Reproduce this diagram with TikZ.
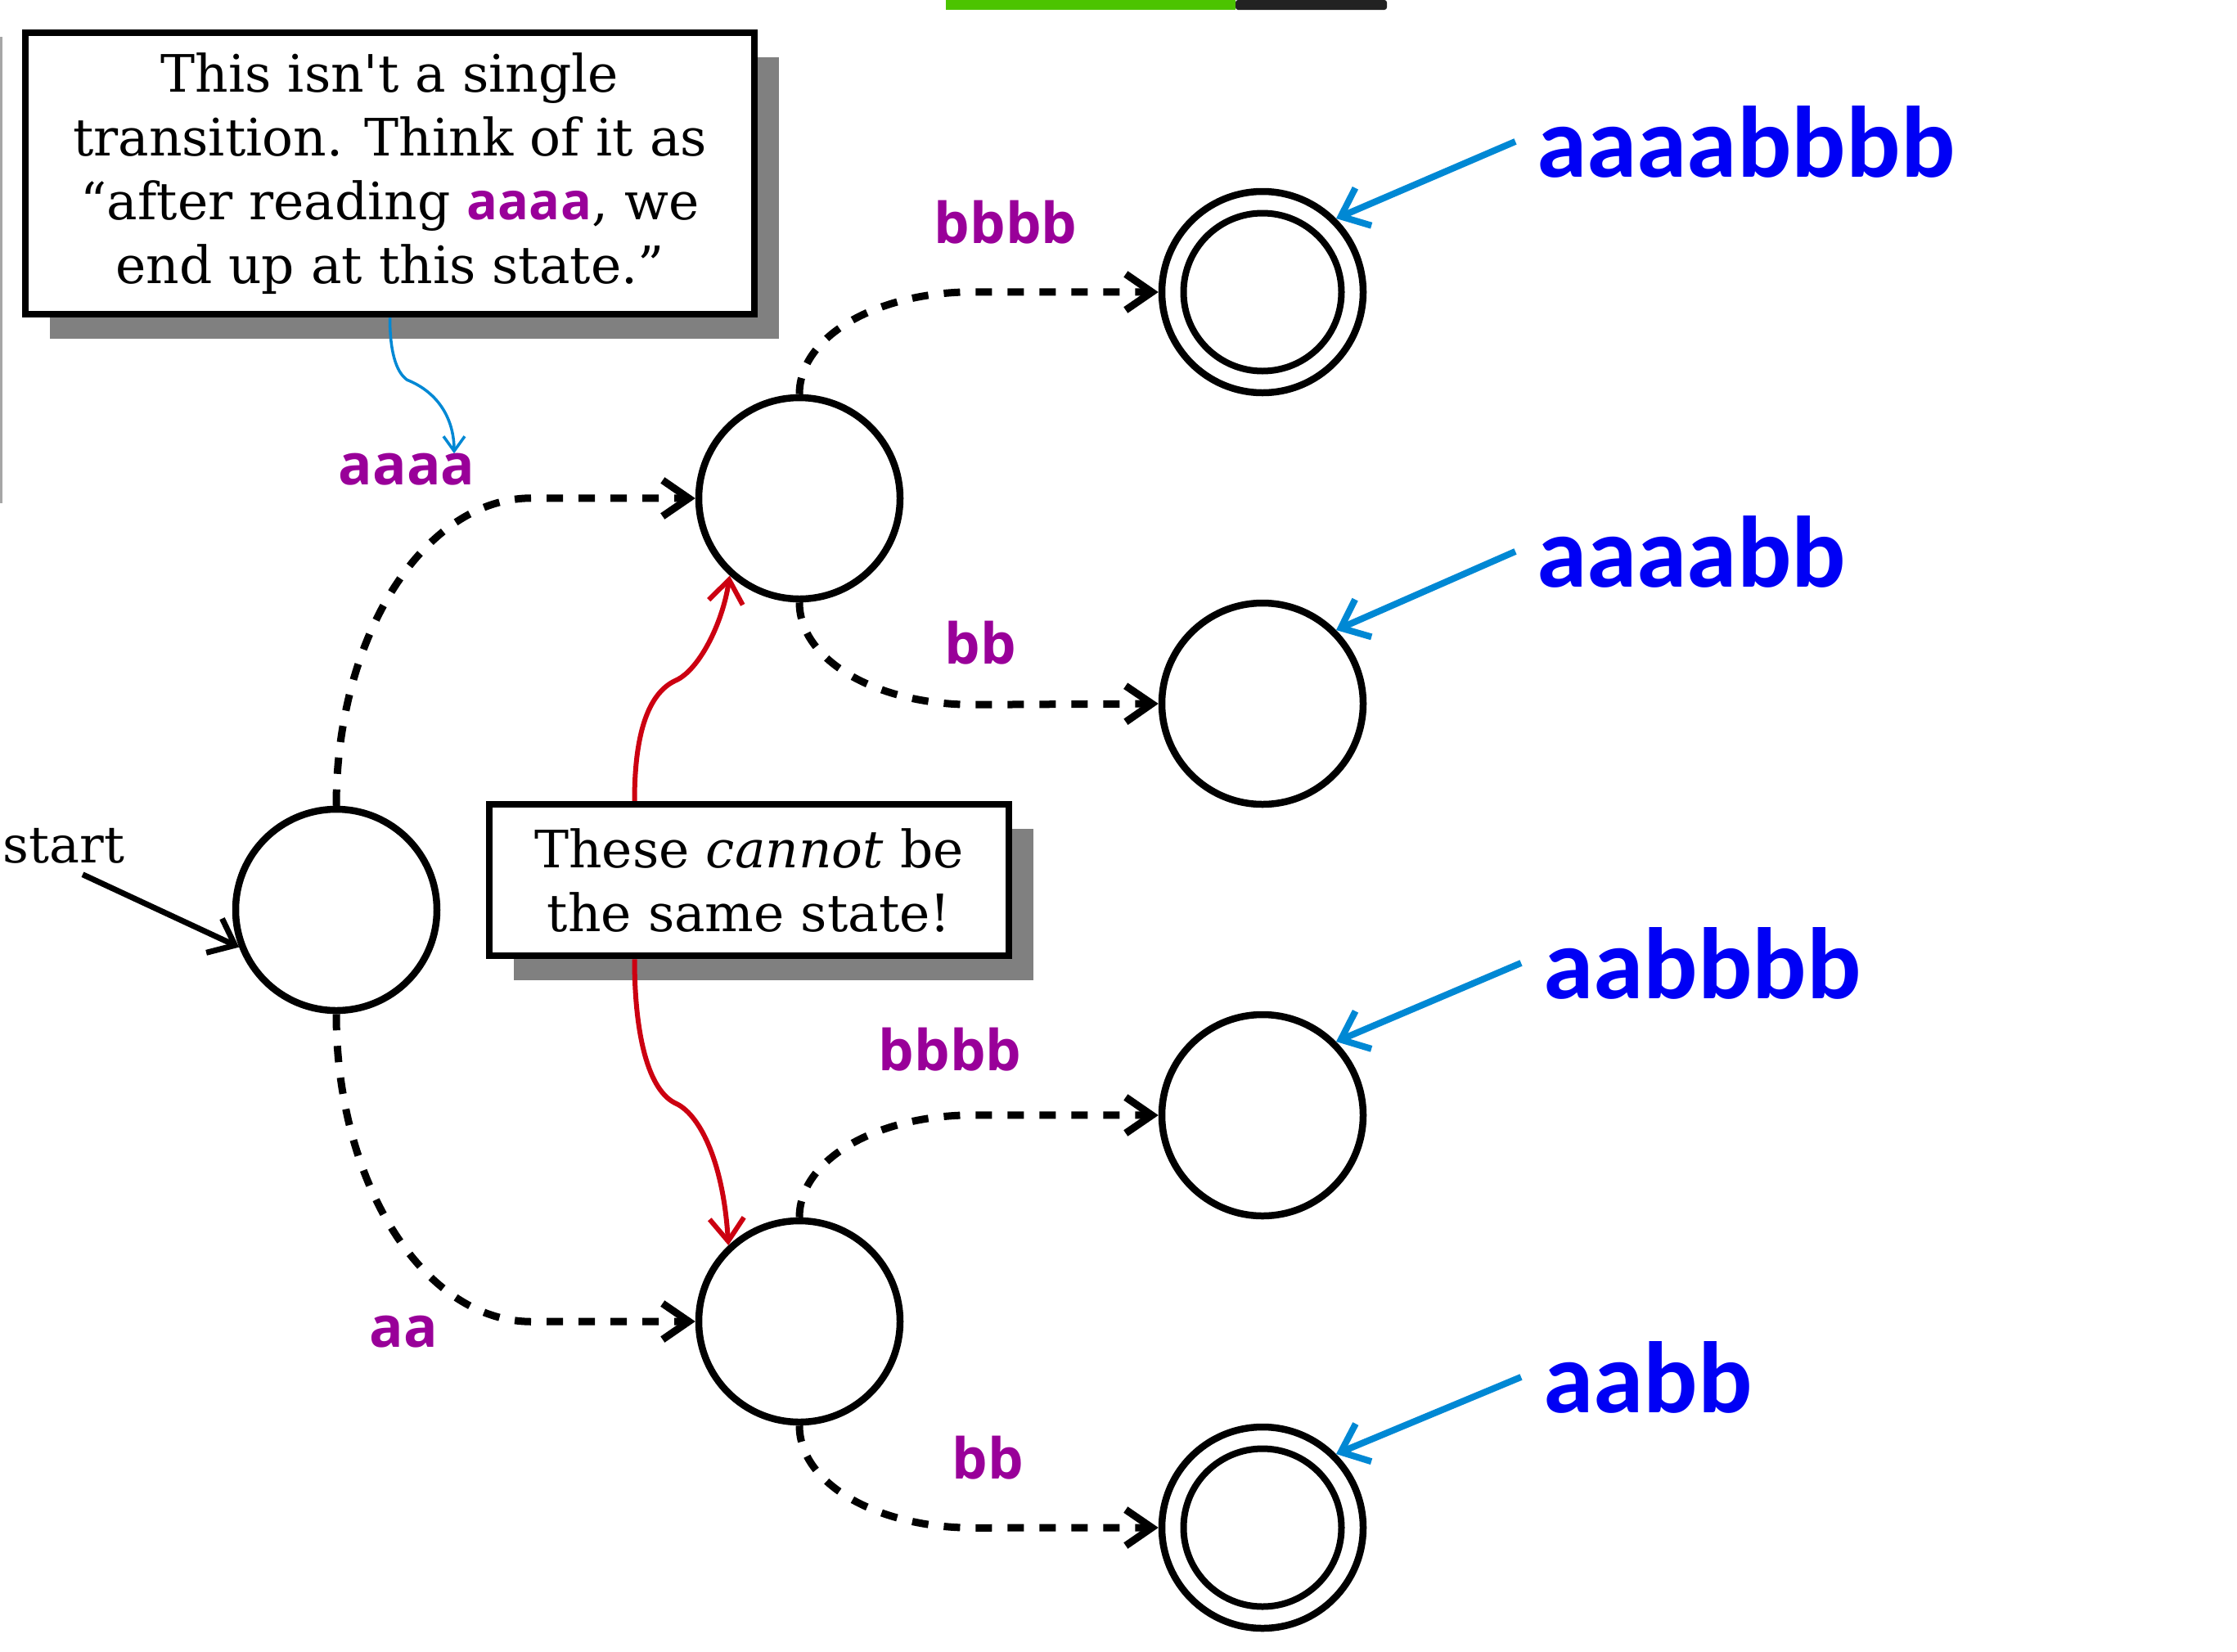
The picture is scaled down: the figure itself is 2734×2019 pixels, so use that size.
\documentclass[tikz,border=0pt]{standalone}
\usepackage{fontspec}
\setmainfont{DejaVu Serif}[Ligatures=TeXOff]
\newfontfamily\labfont{Open Sans}
\newfontfamily\blufont{Carlito}
\usetikzlibrary{arrows.meta,shadows}
\definecolor{labpurple}{RGB}{153,0,153}
\definecolor{wordblue}{RGB}{0,0,245}
\definecolor{arrowblue}{RGB}{0,136,212}
\definecolor{redc}{RGB}{204,0,17}
\definecolor{bannergreen}{RGB}{76,196,0}
\definecolor{bannerdark}{RGB}{34,34,34}
\definecolor{shadowgray}{RGB}{128,128,128}
\begin{document}
\begin{tikzpicture}[x=1pt,y=1pt,
  state/.style={circle,draw,line width=8.5pt,minimum size=246pt,inner sep=0pt},
  innerring/.style={circle,draw,line width=8pt,minimum size=193pt,inner sep=0pt},
  trans/.style={line width=9pt,dash pattern=on 20pt off 19pt,-{Straight Barb[length=32pt,width=44pt]}},
  startarrow/.style={line width=7pt,-{Straight Barb[length=28pt,width=46pt]}},
  lbl/.style={text=labpurple,font=\labfont\bfseries\fontsize{69}{80}\selectfont,inner sep=0pt},
  word/.style={text=wordblue,font=\blufont\bfseries\fontsize{124}{140}\selectfont,anchor=base west,inner sep=0pt},
  pointer/.style={draw=arrowblue,line width=8pt,-{Straight Barb[length=30pt,width=50pt]}},
  thinpointer/.style={draw=arrowblue,line width=3.5pt,-{Straight Barb[length=18pt,width=26pt]}},
  note/.style={draw,line width=8.5pt,fill=white,align=center,font=\fontsize{63}{78}\selectfont,
    drop shadow={shadow xshift=30pt,shadow yshift=-30pt,fill=shadowgray,opacity=1},inner sep=0pt},
  redarr/.style={draw=redc,line width=6pt,-{Straight Barb[length=28pt,width=42pt]}}
]
\useasboundingbox (0,0) rectangle (2734,-2019);
% screen-share banner and edge artefacts
\fill[bannergreen] (1156,0) rectangle (1510,-12);
\fill[bannerdark,rounded corners=3pt] (1510,0) rectangle (1695,-12);
\fill[gray!70] (0,-45) rectangle (3,-615);

% notes
\node[note,minimum width=891pt,minimum height=344pt] (note1) at (476.5,-212)
  {This isn't a single\\transition. Think of it as\\“after reading {\color{labpurple}\labfont\bfseries aaaa}, we\\end up at this state.”};
\node[note,minimum width=635pt,minimum height=185pt] (note2) at (915.5,-1075.5)
  {These \textit{cannot} be\\the same state!};

% states
\node[state] (q0) at (411,-1112) {};
\node[state] (q1) at (977,-609) {};
\node[state] (q2) at (977,-1615) {};
\node[state] (q3) at (1543,-357) {};
\node[innerring] (q3i) at (q3) {};
\node[state] (q4) at (1543,-860) {};
\node[state] (q5) at (1543,-1363) {};
\node[state] (q6) at (1543,-1867) {};
\node[innerring] (q6i) at (q6) {};

% start
\node[inner sep=0pt,font=\fontsize{62}{72}\selectfont] (st) at (78,-1034) {start};
\draw[startarrow] ([shift={(23pt,-13pt)}]st.south) -- (q0.201);

% transitions
\draw[trans] (q0.north) .. controls +(0,207) and +(-132,0) .. ++(239,376) -- (q1.west);
\draw[trans] (q0.south) .. controls +(0,-207) and +(-132,0) .. ++(239,-376) -- (q2.west);
\draw[trans] (q1.north) .. controls +(0,71) and +(-118,0) .. ++(213,125) -- (q3.west);
\draw[trans] (q1.south) .. controls +(0,-71) and +(-118,0) .. ++(213,-125) -- (q4.west);
\draw[trans] (q2.north) .. controls +(0,71) and +(-118,0) .. ++(213,125) -- (q5.west);
\draw[trans] (q2.south) .. controls +(0,-71) and +(-118,0) .. ++(213,-125) -- (q6.west);

% transition labels
\node[lbl] (la1) at (497,-574) {aaaa};
\node[lbl] (la2) at (493,-1628) {aa};
\node[lbl] (lb1) at (1229,-272) {bbbb};
\node[lbl] (lb2) at (1198,-786) {bb};
\node[lbl] (lb3) at (1161,-1283) {bbbb};
\node[lbl] (lb4) at (1207,-1782) {bb};

% words
\node[word] (w1) at (1878,-216) {aaaabbbb};
\node[word] (w2) at (1878,-717) {aaaabb};
\node[word] (w3) at (1886,-1220) {aabbbb};
\node[word] (w4) at (1886,-1726) {aabb};
\draw[pointer] ([xshift=-26pt]w1.west) -- (q3.north east);
\draw[pointer] ([xshift=-26pt]w2.west) -- (q4.north east);
\draw[pointer] ([xshift=-27pt]w3.west) -- (q5.north east);
\draw[pointer] ([xshift=-27pt]w4.west) -- (q6.north east);

% note pointers
\draw[thinpointer] (note1.south) .. controls +(0,-40) and +(-14,10) .. ++(21,-76)
  .. controls +(40,-16) and +(0,40) .. ([xshift=58pt]la1.north);
\draw[redarr] ([xshift=-140pt]note2.north) .. controls +(0,90) and +(-30,-14) .. ++(50,147)
  .. controls +(28,12) and +(-9,-60) .. (q1.228);
\draw[redarr] ([xshift=-140pt]note2.south) .. controls +(0,-90) and +(-36,15) .. ++(52,-177)
  .. controls +(29,-15) and +(-6,100) .. (q2.133);
\end{tikzpicture}
\end{document}
